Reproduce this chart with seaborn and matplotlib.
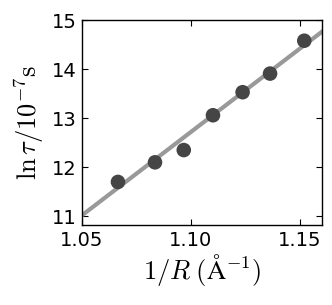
import numpy as np
import pandas as pd
import matplotlib
matplotlib.use("Agg")
import matplotlib.pyplot as plt
import seaborn as sns

# measured points
inv_r = [1.0665, 1.0835, 1.0967, 1.1101, 1.1237, 1.1363, 1.1520]
ln_tau = [11.70, 12.10, 12.35, 13.06, 13.53, 13.91, 14.58]
# fitted line end points
fit_x = [1.04, 1.17]
fit_y = [10.68, 15.10]

xticks = [1.05, 1.10, 1.15]
yticks = [11, 12, 13, 14, 15]

sns.set_style("white")
plt.rcParams["font.family"] = ["DejaVu Sans"]
plt.rcParams["mathtext.fontset"] = "cm"
plt.rcParams["text.color"] = "black"
plt.rcParams["axes.labelcolor"] = "black"
plt.rcParams["xtick.color"] = "black"
plt.rcParams["ytick.color"] = "black"

pts = pd.DataFrame({"x": inv_r, "y": ln_tau})
fit = pd.DataFrame({"x": fit_x, "y": fit_y})

fig = plt.figure(figsize=(3.32, 3.05), dpi=100)
ax = fig.add_axes([0.247, 0.262, 0.722, 0.672])

sns.lineplot(data=fit, x="x", y="y", ax=ax, color="#999999", lw=3, zorder=1)
sns.scatterplot(data=pts, x="x", y="y", ax=ax, color="#454545", s=110,
                edgecolor="none", zorder=2)

ax.set_xlim(1.05, 1.16)
ax.set_ylim(10.82, 15)
ax.set_xticks(xticks)
ax.set_xticklabels(["%.2f" % t for t in xticks])
ax.set_yticks(yticks)
ax.tick_params(axis="both", which="major", labelsize=14, length=4, width=0.8,
               top=True, right=True, bottom=True, left=True, direction="in",
               color="black", labelcolor="black", pad=4)
for s in ax.spines.values():
    s.set_color("black")
    s.set_linewidth(1.0)

ax.set_xlabel(r"$1/R\;(\mathrm{\AA}^{-1})$", fontsize=19, labelpad=2,
              color="black")
ax.set_ylabel(r"$\ln\tau/10^{-7}\mathrm{s}$", fontsize=19, labelpad=4,
              color="black")

fig.savefig("out.png", dpi=100)
